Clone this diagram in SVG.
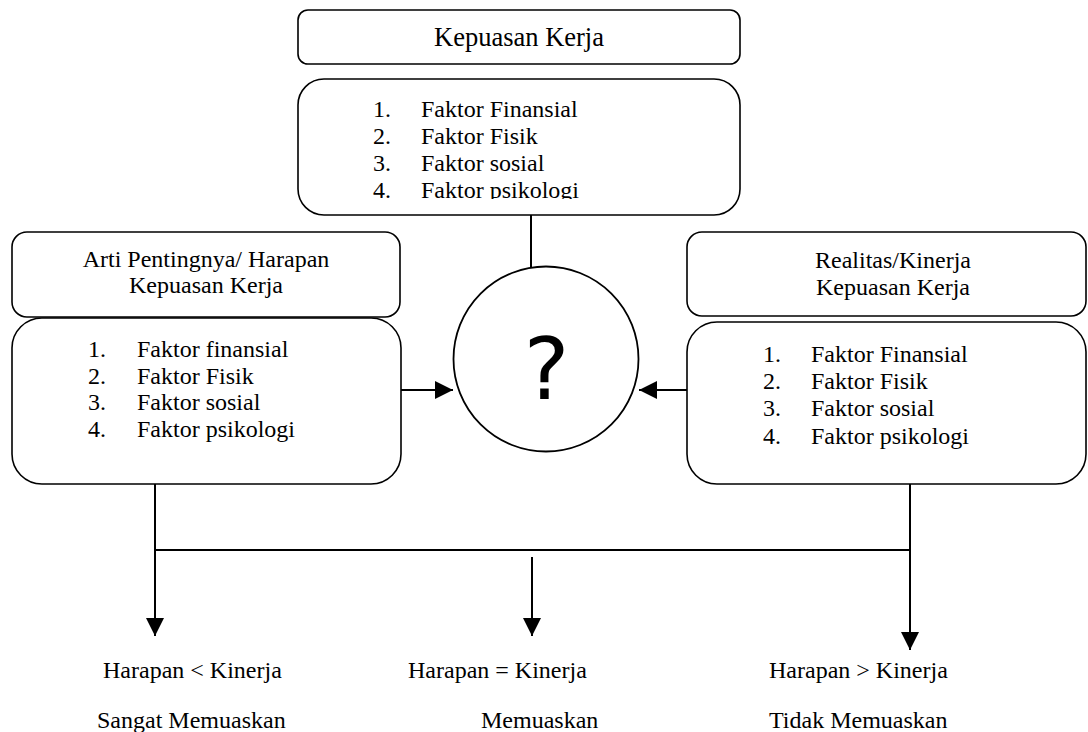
<svg xmlns="http://www.w3.org/2000/svg" width="1088" height="732" viewBox="0 0 1088 732">
<style>
.box{fill:#fff;stroke:#000;stroke-width:1.6}
.t{font-family:"Liberation Serif","Times New Roman",serif;font-size:24px;fill:#000}
.title{font-size:26.5px}
.c{text-anchor:middle}
.ln{stroke:#000;stroke-width:2;fill:none}
</style>
<defs>
<marker id="ah" markerUnits="userSpaceOnUse" markerWidth="18" markerHeight="18" viewBox="0 0 16 16" refX="16" refY="8" orient="auto">
<path d="M0,0 L16,8 L0,16 Z" fill="#000"/>
</marker>
<clipPath id="clipTop"><rect x="298" y="80" width="442" height="119"/></clipPath>
</defs>
<rect width="1088" height="732" fill="#fff"/>
<g id="connectors">
<line class="ln" x1="531" y1="214" x2="531" y2="267"/>
<line class="ln" x1="401" y1="390" x2="453" y2="390" marker-end="url(#ah)"/>
<line class="ln" x1="687" y1="390" x2="639" y2="390" marker-end="url(#ah)"/>
<line class="ln" x1="155" y1="484" x2="155" y2="636" marker-end="url(#ah)"/>
<line class="ln" x1="910" y1="484" x2="910" y2="650" marker-end="url(#ah)"/>
<line class="ln" x1="155" y1="550" x2="910" y2="550"/>
<line class="ln" x1="532" y1="557" x2="532" y2="636" marker-end="url(#ah)"/>
</g>
<g id="node-kepuasan">
<rect class="box" x="298" y="10" width="442" height="54" rx="10"/>
<text class="t title c" x="519" y="46">Kepuasan Kerja</text>
</g>
<g id="node-faktor-top">
<rect class="box" x="298" y="79" width="442" height="136" rx="26"/>
<g clip-path="url(#clipTop)">
<text class="t" x="373" y="117">1.</text><text class="t" x="421" y="117">Faktor Finansial</text>
<text class="t" x="373" y="144">2.</text><text class="t" x="421" y="144">Faktor Fisik</text>
<text class="t" x="373" y="171">3.</text><text class="t" x="421" y="171">Faktor sosial</text>
<text class="t" x="373" y="198">4.</text><text class="t" x="421" y="198">Faktor psikologi</text>
</g>
</g>
<g id="node-harapan">
<rect class="box" x="12" y="232" width="388" height="85" rx="15"/>
<text class="t c" x="206" y="267">Arti Pentingnya/ Harapan</text>
<text class="t c" x="206" y="293">Kepuasan Kerja</text>
</g>
<g id="node-faktor-left">
<rect class="box" x="12" y="318" width="389" height="166" rx="30"/>
<text class="t" x="88" y="357">1.</text><text class="t" x="137" y="357">Faktor finansial</text>
<text class="t" x="88" y="384">2.</text><text class="t" x="137" y="384">Faktor Fisik</text>
<text class="t" x="88" y="410">3.</text><text class="t" x="137" y="410">Faktor sosial</text>
<text class="t" x="88" y="437">4.</text><text class="t" x="137" y="437">Faktor psikologi</text>
</g>
<g id="node-question">
<circle cx="546" cy="359" r="92.5" fill="#fff" stroke="#000" stroke-width="1.8"/>
<text x="546.5" y="399" text-anchor="middle" font-family="'DejaVu Sans','Open Sans',sans-serif" font-size="86">?</text>
</g>
<g id="node-realitas">
<rect class="box" x="687" y="232" width="399" height="84" rx="15"/>
<text class="t c" x="893" y="268">Realitas/Kinerja</text>
<text class="t c" x="893" y="295">Kepuasan Kerja</text>
</g>
<g id="node-faktor-right">
<rect class="box" x="687" y="322" width="399" height="162" rx="30"/>
<text class="t" x="763" y="362">1.</text><text class="t" x="811" y="362">Faktor Finansial</text>
<text class="t" x="763" y="389">2.</text><text class="t" x="811" y="389">Faktor Fisik</text>
<text class="t" x="763" y="416">3.</text><text class="t" x="811" y="416">Faktor sosial</text>
<text class="t" x="763" y="444">4.</text><text class="t" x="811" y="444">Faktor psikologi</text>
</g>
<g id="result-left">
<text class="t" x="103" y="678">Harapan &lt; Kinerja</text>
<text class="t" x="97" y="728">Sangat Memuaskan</text>
</g>
<g id="result-mid">
<text class="t" x="408" y="678">Harapan = Kinerja</text>
<text class="t" x="481" y="728">Memuaskan</text>
</g>
<g id="result-right">
<text class="t" x="769" y="678">Harapan &gt; Kinerja</text>
<text class="t" x="769" y="728">Tidak Memuaskan</text>
</g>
</svg>
